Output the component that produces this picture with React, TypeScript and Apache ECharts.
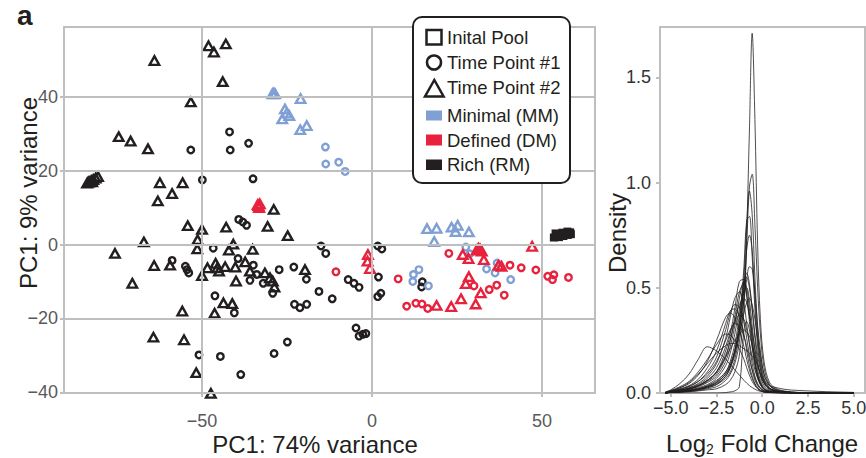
import React, { useEffect, useRef } from "react";
import * as echarts from "echarts";

const BLUE = "#7f9fd5";
const RED = "#e8223d";
const BLACK = "#231f20";
const GRAY = "#bfbfbf";
const FONT = "'Liberation Sans', Arial, Helvetica, sans-serif";

// PCA scatter: [PC1, PC2]
const blackTriangles = [
  [-64.0, 49.8], [-48.1, 53.8], [-46.5, 52.1], [-43.0, 54.3], [-43.9, 44.1], [-53.3, 38.6],
  [-74.5, 29.2], [-71.0, 28.0], [-65.9, 25.9],
  [-83.8, 16.6], [-83.2, 17.0], [-82.6, 17.3], [-82.0, 17.6], [-81.3, 18.0], [-80.6, 18.4], [-83.5, 16.9], [-82.3, 17.0],
  [-62.4, 16.7], [-55.7, 16.7], [-58.8, 13.8], [-63.0, 11.8], [-28.9, 9.5],
  [-54.2, 5.1], [-50.0, 4.1], [-42.9, 4.7], [-30.7, 4.9], [-24.8, 2.4], [-67.1, 0.7], [-51.3, 1.3], [-51.4, -1.2],
  [-40.8, 0.1], [-42.1, -1.5], [-35.1, -1.3], [-75.6, -2.4], [-64.1, -5.7], [-59.4, -5.6], [-50.0, -8.4], [-48.4, -6.3],
  [-46.0, -5.1], [-45.0, -7.2], [-43.2, -6.0], [-45.5, -6.3], [-40.2, -6.1], [-37.3, -4.7], [-35.9, -7.2], [-31.5, -7.7],
  [-40.0, -9.9], [-30.0, -9.0], [-29.2, -9.9], [-28.7, -11.5], [-19.7, -6.8], [-70.5, -10.5], [-43.7, -15.8], [-41.1, -16.0],
  [-55.8, -18.0], [-46.3, -18.6], [-64.3, -25.1], [-55.3, -25.8], [-51.7, -34.7], [-47.4, -40.3],
];
const blackCircles = [
  [-53.3, 25.6], [-41.9, 30.5], [-41.7, 25.6], [-36.3, 27.4], [-49.9, 17.5], [-35.0, 17.8],
  [-39.2, 6.8], [-38.0, 6.1], [-36.9, 5.2], [-46.7, -1.0], [-58.8, -4.3], [-54.9, -5.9], [-54.4, -6.8], [-53.9, -7.7],
  [-39.4, -3.8], [-34.9, -5.6], [-33.9, -8.1], [-35.9, -9.7], [-32.0, -10.5], [-29.2, -13.2], [-27.3, -6.8], [-23.0, -6.1],
  [-19.3, -9.4], [-46.2, -13.9], [-40.5, -18.5], [-22.8, -16.2], [-21.2, -17.1], [-19.2, -16.2], [-50.9, -29.9],
  [-44.6, -30.3], [-38.6, -35.2], [-28.8, -29.5], [-24.9, -26.4],
  [-15.0, -0.4], [-13.6, -2.4], [-15.6, -12.7], [-11.7, -14.7], [-7.0, -9.5], [-5.3, -10.5], [-3.8, -11.6],
  [-4.7, -22.6], [-3.8, -24.8], [-2.7, -24.3], [-1.8, -24.1], [1.7, -0.4], [2.9, -1.2], [1.9, -8.8], [2.6, -13.2],
  [1.7, -14.1], [14.8, -10.1], [14.6, -11.5],
];
const blackSquares = [
  [53.5, 1.9], [54.3, 2.4], [55.0, 2.0], [55.6, 2.8], [56.3, 2.3], [57.0, 3.0], [57.6, 2.6], [58.3, 3.3],
  [58.5, 2.8], [54.0, 3.0], [56.0, 3.2], [57.5, 3.5],
];
const blueTriangles = [
  [-29.3, 40.8], [-28.5, 40.8], [-28.9, 41.0], [-21.0, 39.5], [-25.6, 36.7], [-25.1, 35.6], [-24.3, 34.9], [-26.4, 34.0],
  [-21.1, 31.1], [-19.2, 32.2],
  [16.2, 4.3], [19.0, 4.4], [23.4, 4.7], [25.2, 5.2], [24.6, 3.5], [28.5, 3.4], [18.3, 0.8],
];
const blueCircles = [
  [-13.7, 26.4], [-13.6, 21.8], [-9.8, 22.3], [-7.9, 19.8], [12.2, -8.1], [13.8, -6.8], [12.0, -10.0], [16.6, -11.2],
  [27.6, -0.7], [28.8, -2.5], [33.7, -6.6], [36.2, -7.7], [36.8, -5.0], [40.8, -9.5],
];
const redTriangles = [
  [-33.4, 10.5], [-33.0, 11.0], [-33.2, 10.0], [-33.6, 10.8],
  [-1.2, -2.7], [-1.3, -4.5], [-0.6, -6.5],
  [26.7, -2.7], [28.4, -3.8], [30.8, -1.5], [31.8, -1.2], [32.3, -1.8], [31.3, -1.0], [32.9, -4.1], [37.2, -5.6],
  [38.1, -5.9], [47.1, -0.5], [28.5, -8.7], [27.6, -10.6], [32.0, -13.1], [19.0, -16.5], [23.3, -16.8], [26.2, -14.7],
  [30.5, -16.1],
];
const redCircles = [
  [-10.6, -7.4], [7.7, -9.3], [10.2, -16.7], [12.9, -15.9], [14.7, -16.1], [16.4, -17.3], [22.6, -2.4], [40.6, -5.6],
  [43.9, -6.3], [48.2, -6.9], [30.0, -11.2], [34.5, -12.2], [36.7, -11.0], [38.9, -13.7], [51.7, -8.6], [53.1, -9.5],
  [53.5, -8.2], [57.8, -8.9],
];

const pcaXTicks = [-50, 0, 50];
const pcaYTicks = [-40, -20, 0, 20, 40];

// Density panel
const densityX = [-5.3, -5, -4.5, -4, -3.5, -3, -2.5, -2, -1.75, -1.5, -1.25, -1, -0.85, -0.7, -0.55, -0.4, -0.25, -0.1, 0.1, 0.4, 0.8, 1.2, 1.6, 2, 3, 4, 5];
const densityCurves = [
  [0, 0.002, 0.004, 0.006, 0.01, 0.015, 0.02, 0.04, 0.06, 0.1, 0.18, 0.4, 0.75, 1.25, 1.71, 1.3, 0.7, 0.35, 0.15, 0.05, 0.02, 0.01, 0.005, 0.003, 0.002, 0.001, 0],
  [0, 0.002, 0.004, 0.007, 0.012, 0.02, 0.03, 0.06, 0.09, 0.14, 0.24, 0.45, 0.7, 0.98, 1.04, 0.8, 0.5, 0.28, 0.12, 0.04, 0.015, 0.007, 0.003, 0.002, 0.001, 0, 0],
  [0, 0.003, 0.006, 0.01, 0.015, 0.025, 0.04, 0.07, 0.1, 0.16, 0.28, 0.55, 0.8, 0.96, 0.85, 0.55, 0.3, 0.16, 0.07, 0.025, 0.01, 0.005, 0.003, 0.002, 0.001, 0, 0],
  [0, 0.003, 0.006, 0.01, 0.018, 0.03, 0.05, 0.09, 0.13, 0.2, 0.33, 0.6, 0.82, 0.84, 0.65, 0.4, 0.22, 0.12, 0.05, 0.02, 0.008, 0.004, 0.002, 0.001, 0, 0, 0],
  [0, 0.004, 0.008, 0.014, 0.02, 0.035, 0.06, 0.1, 0.14, 0.2, 0.3, 0.45, 0.54, 0.6, 0.59, 0.48, 0.32, 0.2, 0.09, 0.035, 0.015, 0.007, 0.004, 0.002, 0.001, 0, 0],
  [0, 0.005, 0.012, 0.02, 0.035, 0.06, 0.1, 0.2, 0.28, 0.4, 0.53, 0.54, 0.46, 0.34, 0.22, 0.13, 0.07, 0.04, 0.015, 0.006, 0.003, 0.002, 0.001, 0, 0, 0, 0],
  [0, 0.004, 0.01, 0.018, 0.03, 0.05, 0.08, 0.15, 0.22, 0.32, 0.45, 0.53, 0.5, 0.4, 0.27, 0.16, 0.09, 0.05, 0.02, 0.008, 0.004, 0.002, 0.001, 0, 0, 0, 0],
  [0, 0.004, 0.009, 0.015, 0.025, 0.04, 0.07, 0.13, 0.19, 0.28, 0.4, 0.48, 0.5, 0.44, 0.32, 0.2, 0.11, 0.06, 0.025, 0.01, 0.005, 0.003, 0.001, 0, 0, 0, 0],
  [0, 0.006, 0.014, 0.025, 0.045, 0.08, 0.14, 0.26, 0.36, 0.45, 0.48, 0.42, 0.33, 0.23, 0.14, 0.08, 0.045, 0.025, 0.01, 0.004, 0.002, 0.001, 0, 0, 0, 0, 0],
  [0, 0.005, 0.01, 0.02, 0.035, 0.06, 0.1, 0.18, 0.25, 0.34, 0.42, 0.45, 0.43, 0.37, 0.29, 0.21, 0.14, 0.09, 0.045, 0.018, 0.008, 0.004, 0.002, 0.001, 0, 0, 0],
  [0, 0.007, 0.016, 0.03, 0.055, 0.1, 0.17, 0.3, 0.38, 0.42, 0.41, 0.34, 0.26, 0.18, 0.11, 0.06, 0.035, 0.02, 0.008, 0.003, 0.001, 0, 0, 0, 0, 0, 0],
  [0, 0.008, 0.02, 0.035, 0.065, 0.12, 0.2, 0.33, 0.39, 0.4, 0.36, 0.28, 0.2, 0.13, 0.08, 0.045, 0.025, 0.013, 0.005, 0.002, 0.001, 0, 0, 0, 0, 0, 0],
  [0, 0.006, 0.013, 0.024, 0.04, 0.07, 0.12, 0.22, 0.29, 0.34, 0.37, 0.35, 0.3, 0.24, 0.17, 0.11, 0.07, 0.04, 0.018, 0.007, 0.003, 0.001, 0, 0, 0, 0, 0],
  [0, 0.008, 0.018, 0.032, 0.055, 0.09, 0.15, 0.25, 0.3, 0.33, 0.32, 0.27, 0.22, 0.16, 0.11, 0.07, 0.04, 0.023, 0.01, 0.004, 0.002, 0.001, 0, 0, 0, 0, 0],
  [0, 0.006, 0.012, 0.02, 0.035, 0.06, 0.1, 0.17, 0.21, 0.25, 0.28, 0.3, 0.29, 0.27, 0.23, 0.18, 0.13, 0.09, 0.05, 0.022, 0.01, 0.005, 0.003, 0.002, 0.001, 0, 0],
  [0.005, 0.015, 0.045, 0.09, 0.16, 0.22, 0.2, 0.16, 0.135, 0.11, 0.085, 0.06, 0.047, 0.035, 0.026, 0.018, 0.012, 0.008, 0.005, 0.003, 0.002, 0.001, 0, 0, 0, 0, 0],
  [0.003, 0.01, 0.025, 0.05, 0.09, 0.14, 0.19, 0.225, 0.235, 0.235, 0.225, 0.21, 0.2, 0.19, 0.175, 0.16, 0.13, 0.09, 0.05, 0.02, 0.008, 0.004, 0.002, 0.001, 0, 0, 0],
  [0, 0, 0, 0, 0, 0, 0, 0.002, 0.005, 0.01, 0.03, 0.3, 0.34, 0.3, 0.22, 0.14, 0.08, 0.045, 0.018, 0.006, 0.002, 0.001, 0, 0, 0, 0, 0],
  [0, 0.003, 0.006, 0.01, 0.016, 0.025, 0.04, 0.08, 0.12, 0.2, 0.33, 0.5, 0.55, 0.5, 0.4, 0.28, 0.18, 0.11, 0.06, 0.035, 0.025, 0.018, 0.014, 0.012, 0.008, 0.005, 0.003],
  [0, 0.005, 0.011, 0.02, 0.032, 0.055, 0.09, 0.17, 0.25, 0.36, 0.48, 0.52, 0.47, 0.37, 0.25, 0.15, 0.085, 0.045, 0.018, 0.007, 0.003, 0.001, 0, 0, 0, 0, 0],
  [0.002, 0.01, 0.025, 0.045, 0.085, 0.15, 0.25, 0.36, 0.38, 0.36, 0.3, 0.22, 0.16, 0.11, 0.07, 0.04, 0.022, 0.012, 0.005, 0.002, 0.001, 0, 0, 0, 0, 0, 0],
  [0, 0.004, 0.008, 0.013, 0.02, 0.033, 0.055, 0.1, 0.15, 0.23, 0.37, 0.53, 0.57, 0.52, 0.4, 0.26, 0.15, 0.08, 0.035, 0.013, 0.005, 0.002, 0.001, 0, 0, 0, 0],
  [0.003, 0.012, 0.03, 0.055, 0.1, 0.16, 0.23, 0.28, 0.275, 0.25, 0.21, 0.16, 0.12, 0.085, 0.055, 0.035, 0.02, 0.011, 0.005, 0.002, 0.001, 0, 0, 0, 0, 0, 0],
  [0, 0.004, 0.008, 0.012, 0.02, 0.03, 0.05, 0.09, 0.13, 0.19, 0.28, 0.38, 0.43, 0.45, 0.42, 0.35, 0.26, 0.18, 0.09, 0.035, 0.012, 0.005, 0.002, 0.001, 0, 0, 0],
  [0, 0.003, 0.006, 0.01, 0.017, 0.028, 0.045, 0.08, 0.12, 0.18, 0.3, 0.5, 0.68, 0.75, 0.68, 0.45, 0.26, 0.14, 0.06, 0.022, 0.009, 0.004, 0.002, 0.001, 0, 0, 0],
];
const densityXTicks = [-5, -2.5, 0, 2.5, 5];
const densityYInterval = 0.5;

const legendItems = ["Inital Pool", "Time Point #1", "Time Point #2", "Minimal (MM)", "Defined (DM)", "Rich (RM)"];

const minus = (s: string) => s.replace("-", "\u2212");

function scatter(data: number[][], color: string, shape: string, size: any, filled = false) {
  return {
    type: "scatter",
    xAxisIndex: 0,
    yAxisIndex: 0,
    data,
    symbol: shape,
    symbolSize: size,
    clip: false,
    z: 3,
    itemStyle: {
      color: filled ? color : "rgba(0,0,0,0)",
      borderColor: color,
      borderWidth: filled ? 0 : 2.4,
      opacity: 1,
    },
  };
}

function axisLine() {
  return { show: true, onZero: false, lineStyle: { color: GRAY, width: 2 } };
}

export default function App() {
  const ref = useRef<HTMLDivElement>(null);
  useEffect(() => {
    if (!ref.current) return;
    const chart = echarts.init(ref.current, undefined, { renderer: "svg" });
    const tickStyle = { show: true, length: 4, lineStyle: { color: GRAY, width: 2 } };
    const textBase = { fontFamily: FONT };
    const legendTextY = [37, 62, 87, 115.5, 140, 164.5];

    const option: any = {
      animation: false,
      backgroundColor: "#fff",
      textStyle: { fontFamily: FONT },
      grid: [
        { left: 64, top: 27, width: 531, height: 366, show: true, borderColor: GRAY, borderWidth: 2, backgroundColor: "#fff", containLabel: false, outerBoundsMode: "none" },
        { left: 660, top: 27, width: 205, height: 366, show: true, borderColor: GRAY, borderWidth: 2, backgroundColor: "#fff", containLabel: false, outerBoundsMode: "none" },
      ],
      xAxis: [
        {
          type: "value", gridIndex: 0, min: -90.6, max: 65.6, position: "bottom",
          axisLine: axisLine(), splitLine: { show: false },
          axisTick: { ...tickStyle, customValues: pcaXTicks },
          axisLabel: { customValues: pcaXTicks, margin: 19, color: "#595959", fontSize: 18, fontFamily: FONT, formatter: (v: number) => minus(String(v)) },
        },
        {
          type: "value", gridIndex: 1, min: -5.59, max: 5.62, position: "bottom",
          axisLine: axisLine(), splitLine: { show: false },
          axisTick: { ...tickStyle, customValues: densityXTicks },
          axisLabel: { customValues: densityXTicks, margin: 6, color: "#333", fontSize: 18, fontFamily: FONT, formatter: (v: number) => minus(v.toFixed(1)) },
        },
      ],
      yAxis: [
        {
          type: "value", gridIndex: 0, min: -40.2, max: 58.9, position: "left",
          axisLine: axisLine(), splitLine: { show: false },
          axisTick: { ...tickStyle, customValues: pcaYTicks },
          axisLabel: { customValues: pcaYTicks, margin: 6, color: "#595959", fontSize: 18, fontFamily: FONT, formatter: (v: number) => minus(String(v)) },
        },
        {
          type: "value", gridIndex: 1, min: 0, max: 1.74, interval: densityYInterval, position: "left",
          axisLine: axisLine(), splitLine: { show: false },
          axisTick: { ...tickStyle },
          axisLabel: { showMaxLabel: false, margin: 9, color: "#333", fontSize: 18, fontFamily: FONT, formatter: (v: number) => v.toFixed(1) },
        },
      ],
      series: [
        {
          type: "line", xAxisIndex: 0, yAxisIndex: 0, data: [], z: 1, silent: true,
          markLine: {
            silent: true, symbol: "none", label: { show: false }, animation: false,
            lineStyle: { color: GRAY, width: 2, type: "solid" },
            emphasis: { disabled: true },
            data: [...pcaXTicks.map((v) => ({ xAxis: v })), ...pcaYTicks.map((v) => ({ yAxis: v }))],
          },
        },
        scatter(blackSquares, BLACK, "rect", 8, true),
        scatter(blackCircles, BLACK, "circle", 6.5),
        scatter(blackTriangles, BLACK, "triangle", [9.5, 8.5]),
        scatter(blueCircles, BLUE, "circle", 6.5),
        scatter(blueTriangles, BLUE, "triangle", [9.5, 8.5]),
        scatter(redCircles, RED, "circle", 6.5),
        scatter(redTriangles, RED, "triangle", [9.5, 8.5]),
        ...densityCurves.map((c) => ({
          type: "line", xAxisIndex: 1, yAxisIndex: 1, showSymbol: false, smooth: 0.35, silent: true,
          data: densityX.map((x, i) => [x, c[i]]),
          lineStyle: { color: BLACK, width: 0.8 },
        })),
      ],
      graphic: [
        { type: "text", x: 17, y: 29, style: { ...textBase, text: "a", fill: BLACK, fontSize: 28, fontWeight: "bold", align: "left", textAlign: "left", verticalAlign: "bottom", textVerticalAlign: "bottom" } },
        { type: "text", x: 28, y: 193, rotation: Math.PI / 2, style: { ...textBase, text: "PC1: 9% variance", fill: BLACK, fontSize: 24, align: "center", textAlign: "center", verticalAlign: "middle", textVerticalAlign: "middle" } },
        { type: "text", x: 315, y: 444, style: { ...textBase, text: "PC1: 74% variance", fill: BLACK, fontSize: 24, align: "center", textAlign: "center", verticalAlign: "middle", textVerticalAlign: "middle" } },
        { type: "text", x: 617, y: 233, rotation: Math.PI / 2, style: { ...textBase, text: "Density", fill: BLACK, fontSize: 24, align: "center", textAlign: "center", verticalAlign: "middle", textVerticalAlign: "middle" } },
        { type: "text", x: 666, y: 443, style: { ...textBase, text: "Log", fill: BLACK, fontSize: 24, align: "left", textAlign: "left", verticalAlign: "middle", textVerticalAlign: "middle" } },
        { type: "text", x: 706, y: 449, style: { ...textBase, text: "2", fill: BLACK, fontSize: 14, align: "left", textAlign: "left", verticalAlign: "middle", textVerticalAlign: "middle" } },
        { type: "text", x: 714, y: 443, style: { ...textBase, text: " Fold Change", fill: BLACK, fontSize: 24, align: "left", textAlign: "left", verticalAlign: "middle", textVerticalAlign: "middle" } },
        // legend
        { type: "rect", z: 100, shape: { x: 413, y: 17, width: 157, height: 166, r: 9 }, style: { fill: "#fff", stroke: BLACK, lineWidth: 2 } },
        { type: "rect", z: 101, shape: { x: 426.5, y: 30, width: 15, height: 14.5 }, style: { fill: "none", stroke: BLACK, lineWidth: 2.5 } },
        { type: "circle", z: 101, shape: { cx: 434, cy: 62.5, r: 7 }, style: { fill: "none", stroke: BLACK, lineWidth: 2.5 } },
        { type: "polygon", z: 101, shape: { points: [[434.3, 80], [425, 96.5], [443.6, 96.5]] }, style: { fill: "none", stroke: BLACK, lineWidth: 2.5 } },
        { type: "rect", z: 101, shape: { x: 426, y: 110.5, width: 16, height: 10 }, style: { fill: BLUE } },
        { type: "rect", z: 101, shape: { x: 426, y: 134.5, width: 16, height: 11 }, style: { fill: RED } },
        { type: "rect", z: 101, shape: { x: 426, y: 159.5, width: 16, height: 10.5 }, style: { fill: BLACK } },
        ...legendItems.map((t, i) => ({
          type: "text", z: 101, x: 447, y: legendTextY[i],
          style: { ...textBase, text: t, fill: BLACK, fontSize: 18.5, align: "left", textAlign: "left", verticalAlign: "middle", textVerticalAlign: "middle" },
        })),
      ],
    };
    chart.setOption(option);
    return () => chart.dispose();
  }, []);
  return <div ref={ref} style={{ width: 866, height: 458, position: "absolute", left: 0, top: 0 }} />;
}
